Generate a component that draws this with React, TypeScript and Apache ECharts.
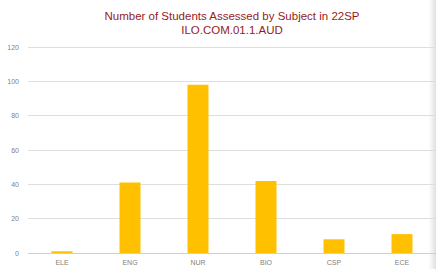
import React, { useEffect, useRef } from "react";
import * as echarts from "echarts";

const categories = ["ELE", "ENG", "NUR", "BIO", "CSP", "ECE"];
const studentsAssessed = [1, 41, 98, 42, 8, 11];
const titleLines = ["Number of Students Assessed by Subject in 22SP", "ILO.COM.01.1.AUD"];

export default function App() {
  const ref = useRef<HTMLDivElement>(null);
  useEffect(() => {
    if (!ref.current) return;
    const chart = echarts.init(ref.current, undefined, { renderer: "svg" });
    chart.setOption({
      animation: false,
      backgroundColor: "#ffffff",
      title: {
        text: titleLines.join("\n"),
        left: 227,
        top: 4,
        textAlign: "center",
        textStyle: {
          color: "#951b1e",
          fontFamily: "Liberation Sans, Arial, sans-serif",
          fontSize: 11.5,
          fontWeight: "normal",
          lineHeight: 14,
        },
      },
      grid: { left: 28, top: 47, width: 414, height: 206, containLabel: false },
      xAxis: {
        type: "category",
        data: categories,
        axisLine: { lineStyle: { color: "#d0d0d0" } },
        axisTick: { show: false },
        axisLabel: { color: "#7f7f7f", fontSize: 7, margin: 6, fontFamily: "Liberation Sans, sans-serif" },
      },
      yAxis: {
        type: "value",
        min: 0,
        max: 120,
        interval: 20,
        axisLine: { show: false },
        axisTick: { show: false },
        splitLine: { lineStyle: { color: "#dedede" } },
        axisLabel: { color: "#7f7f7f", fontSize: 7, margin: 9, fontFamily: "Liberation Sans, sans-serif" },
      },
      series: [
        {
          type: "bar",
          data: studentsAssessed,
          barWidth: 21,
          itemStyle: { color: "#ffc000" },
        },
      ],
      graphic: [
        {
          type: "rect",
          shape: { x: 428, y: 0, width: 8, height: 269 },
          style: {
            fill: new echarts.graphic.LinearGradient(0, 0, 1, 0, [
              { offset: 0, color: "rgba(220,220,220,0)" },
              { offset: 1, color: "rgba(200,200,200,0.6)" },
            ]),
          },
          silent: true,
        },
      ],
    });
    return () => chart.dispose();
  }, []);
  return (
    <div
      ref={ref}
      style={{ position: "fixed", left: 0, top: 0, width: 436, height: 269 }}
    />
  );
}
